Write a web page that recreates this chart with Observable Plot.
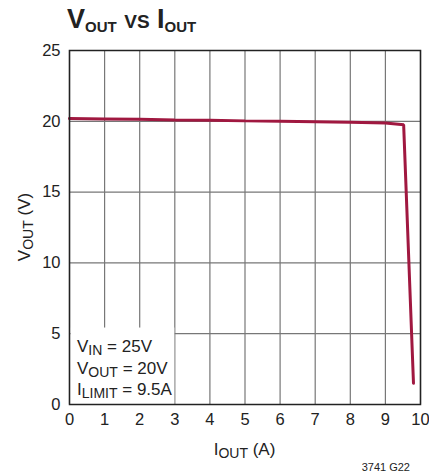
<!DOCTYPE html>
<html>
<head>
<meta charset="utf-8">
<script src="https://cdn.jsdelivr.net/npm/d3@7"></script>
<script src="https://cdn.jsdelivr.net/npm/@observablehq/plot@0.6"></script>
<style>
  html, body { margin: 0; padding: 0; background: #fff; }
  #wrap { position: relative; width: 429px; height: 474px; overflow: hidden; }
  svg text { font-family: "Liberation Sans Narrow", "Liberation Sans", "DejaVu Sans Condensed", sans-serif; }
</style>
</head>
<body>
<div id="wrap"></div>
<script>
// ---- data ----
const currentA = [0, 1, 2, 3, 4, 5, 6, 7, 8, 9, 9.52, 9.8];
const voutV    = [20.2, 20.17, 20.14, 20.1, 20.07, 20.03, 20.0, 19.97, 19.93, 19.88, 19.75, 1.5];
const xTicks = [0, 1, 2, 3, 4, 5, 6, 7, 8, 9, 10];
const yTicks = [0, 5, 10, 15, 20, 25];
const noteLines = [
  [["V", ""], ["IN", "sub"], [" = 25V", ""]],
  [["V", ""], ["OUT", "sub"], [" = 20V", ""]],
  [["I", ""], ["LIMIT", "sub"], [" = 9.5A", ""]]
];
const noteBox = {x1: 0, x2: 3.0, y1: 0, y2: 5.4};

const data = currentA.map((c, i) => ({i: c, v: voutV[i]}));
const FONT = '"Liberation Sans Narrow", "Liberation Sans", sans-serif';

const chart = Plot.plot({
  width: 429,
  height: 474,
  marginTop: 50,
  marginBottom: 70,
  marginLeft: 69,
  marginRight: 9,
  style: {fontFamily: FONT, fontSize: "17px", color: "#222", background: "#fff"},
  x: {domain: [0, 10], ticks: xTicks},
  y: {domain: [0, 25], ticks: yTicks},
  marks: [
    Plot.gridX(xTicks, {stroke: "#777", strokeOpacity: 1, strokeWidth: 1.2}),
    Plot.gridY(yTicks, {stroke: "#777", strokeOpacity: 1, strokeWidth: 1.2}),
    Plot.rect([noteBox], {x1: "x1", x2: "x2", y1: "y1", y2: "y2", fill: "white", inset: 0, insetLeft: 1.5}),
    Plot.line(data, {x: "i", y: "v", stroke: "#a01840", strokeWidth: 3, strokeLinejoin: "miter"}),
    Plot.frame({stroke: "#222", strokeWidth: 1.5}),
    Plot.axisX(xTicks, {tickSize: 0, tickPadding: 9, label: null, fontSize: 16.5, fill: "#222"}),
    Plot.axisY(yTicks, {tickSize: 0, tickPadding: 9, label: null, fontSize: 16.5, fill: "#222"})
  ]
});

document.getElementById("wrap").appendChild(chart);
const svg = d3.select(chart);
const sx = chart.scale("x"), sy = chart.scale("y");

function rich(sel, parts, size, subSize, drop) {
  parts.forEach(([t, kind], k) => {
    const ts = sel.append("tspan").text(t);
    if (kind === "sub") {
      ts.attr("font-size", subSize).attr("dy", drop);
    } else {
      ts.attr("font-size", size);
      if (k > 0 && parts[k - 1][1] === "sub") ts.attr("dy", -drop);
    }
    if (kind === "sc") ts.style("font-variant", "small-caps");
  });
  return sel;
}

// title
const title = svg.append("text")
  .attr("x", 67).attr("y", 28).attr("text-anchor", "start")
  .attr("font-weight", "bold").attr("fill", "#222");
rich(title, [["V", ""], ["OUT", "sub"], [" ", ""], ["vs", "sc"], [" I", ""], ["OUT", "sub"]], 27, 15, 4);

// y label
const cyMid = (sy.apply(0) + sy.apply(25)) / 2;
const yl = svg.append("text")
  .attr("transform", `translate(30,${cyMid}) rotate(-90)`)
  .attr("text-anchor", "middle").attr("fill", "#222");
rich(yl, [["V", ""], ["OUT", "sub"], [" (V)", ""]], 17, 14, 3);

// x label
const cxMid = (sx.apply(0) + sx.apply(10)) / 2;
const xl = svg.append("text")
  .attr("x", cxMid).attr("y", 455)
  .attr("text-anchor", "middle").attr("fill", "#222");
rich(xl, [["I", ""], ["OUT", "sub"], [" (A)", ""]], 17, 14, 3);

// note
noteLines.forEach((parts, k) => {
  const t = svg.append("text")
    .attr("x", sx.apply(0) + 8).attr("y", 352 + k * 21.5)
    .attr("text-anchor", "start")
    .attr("fill", "#222");
  rich(t, parts, 17, 14, 3);
});

// figure code
svg.append("text").attr("x", 410).attr("y", 471).attr("text-anchor", "end")
  .attr("font-size", 11).attr("fill", "#222").text("3741 G22");
</script>
</body>
</html>
